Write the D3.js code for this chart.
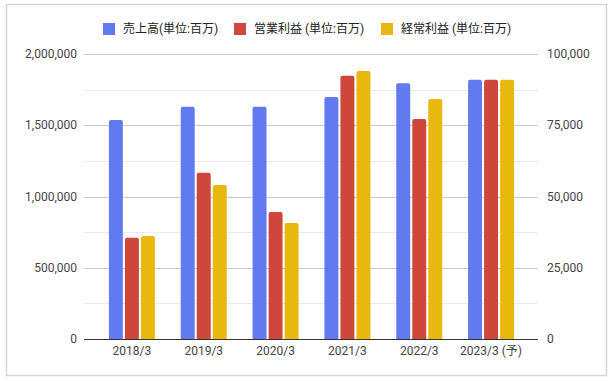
<!DOCTYPE html>
<html>
<head>
<meta charset="utf-8">
<script src="https://cdn.jsdelivr.net/npm/d3@7"></script>
<style>
  body { margin: 0; background: #fff; }
  text { font-family: Roboto, "Noto Sans CJK JP", sans-serif; }
</style>
</head>
<body>
<div id="chart"></div>
<script>
var years = ["2018/3", "2019/3", "2020/3", "2021/3", "2022/3", "2023/3 (予)"];
var sales = [1537000, 1630000, 1630000, 1698000, 1794000, 1820000];
var opProfit = [35500, 58300, 44600, 92400, 77200, 91000];
var ordProfit = [36100, 54000, 40700, 94000, 84200, 91000];
var seriesNames = ["売上高(単位:百万)", "営業利益 (単位:百万)", "経常利益 (単位:百万)"];
var colors = ["#617aef", "#cf463b", "#e8b80e"];
var leftTicks = [0, 500000, 1000000, 1500000, 2000000];
var rightTicks = [0, 25000, 50000, 75000, 100000];

var W = 614, H = 382;
var plot = {left: 84, right: 538, top: 54, bottom: 339};

var svg = d3.select("#chart").append("svg")
    .attr("width", W)
    .attr("height", H);

// outer frame
svg.append("rect")
    .attr("x", 6.5).attr("y", 4.5)
    .attr("width", 600).attr("height", 371)
    .attr("fill", "#fff")
    .attr("stroke", "#d6d6d6")
    .attr("stroke-width", 1.5);

var yLeft = d3.scaleLinear().domain([0, 2000000]).range([plot.bottom, plot.top]);
var yRight = d3.scaleLinear().domain([0, 100000]).range([plot.bottom, plot.top]);

var x = d3.scaleBand().domain(years).range([96, 527]).paddingInner(0).paddingOuter(0);
var inner = d3.scaleBand().domain([0, 1, 2]).range([-23, 23]).paddingInner(0.13);

// gridlines: minor every 250k, major every 500k
var minor = d3.range(250000, 2000001, 250000);
svg.append("g").selectAll("line")
    .data(minor)
    .enter().append("line")
    .attr("x1", plot.left).attr("x2", plot.right)
    .attr("y1", function(d){ return Math.round(yLeft(d)) + 0.5; })
    .attr("y2", function(d){ return Math.round(yLeft(d)) + 0.5; })
    .attr("stroke", function(d){ return d % 500000 === 0 ? "#cccccc" : "#ebebeb"; })
    .attr("stroke-width", 1);

// left axis labels
svg.append("g").selectAll("text")
    .data(leftTicks)
    .enter().append("text")
    .attr("x", 77)
    .attr("y", function(d){ return yLeft(d); })
    .attr("dy", "0.35em")
    .attr("text-anchor", "end")
    .attr("font-size", "12px")
    .attr("fill", "#444")
    .text(function(d){ return d3.format(",")(d); });

// right axis labels
svg.append("g").selectAll("text")
    .data(rightTicks)
    .enter().append("text")
    .attr("x", 547)
    .attr("y", function(d){ return yRight(d); })
    .attr("dy", "0.35em")
    .attr("text-anchor", "start")
    .attr("font-size", "12px")
    .attr("fill", "#444")
    .text(function(d){ return d3.format(",")(d); });

// bars
var rows = years.map(function(y, i){
    return [
        {year: y, k: 0, v: sales[i], s: yLeft},
        {year: y, k: 1, v: opProfit[i], s: yRight},
        {year: y, k: 2, v: ordProfit[i], s: yRight}
    ];
});

function barPath(x0, w, yTop, yBot, r) {
    return "M" + x0 + "," + yBot +
        "V" + (yTop + r) +
        "Q" + x0 + "," + yTop + " " + (x0 + r) + "," + yTop +
        "H" + (x0 + w - r) +
        "Q" + (x0 + w) + "," + yTop + " " + (x0 + w) + "," + (yTop + r) +
        "V" + yBot + "Z";
}

svg.append("g").selectAll("path")
    .data(d3.merge(rows))
    .enter().append("path")
    .attr("d", function(d){
        var cx = x(d.year) + x.bandwidth() / 2;
        return barPath(cx + inner(d.k), inner.bandwidth(), d.s(d.v), plot.bottom, 2);
    })
    .attr("fill", function(d){ return colors[d.k]; });

// baseline
svg.append("line")
    .attr("x1", plot.left).attr("x2", plot.right)
    .attr("y1", plot.bottom + 0.5).attr("y2", plot.bottom + 0.5)
    .attr("stroke", "#333").attr("stroke-width", 1);

// x labels
svg.append("g").selectAll("text")
    .data(years)
    .enter().append("text")
    .attr("x", function(d){ return x(d) + x.bandwidth() / 2; })
    .attr("y", 355)
    .attr("text-anchor", "middle")
    .attr("font-size", "12px")
    .attr("fill", "#444")
    .text(function(d){ return d; });

// legend
var legendX = [103, 234, 381];
var legend = svg.append("g").selectAll("g")
    .data(seriesNames)
    .enter().append("g")
    .attr("transform", function(d, i){ return "translate(" + legendX[i] + ",23)"; });

legend.append("rect")
    .attr("width", 12).attr("height", 12)
    .attr("fill", function(d, i){ return colors[i]; });

legend.append("text")
    .attr("x", 20)
    .attr("y", 6)
    .attr("dy", "0.35em")
    .attr("font-size", "12px")
    .attr("fill", "#222")
    .text(function(d){ return d; });
</script>
</body>
</html>
